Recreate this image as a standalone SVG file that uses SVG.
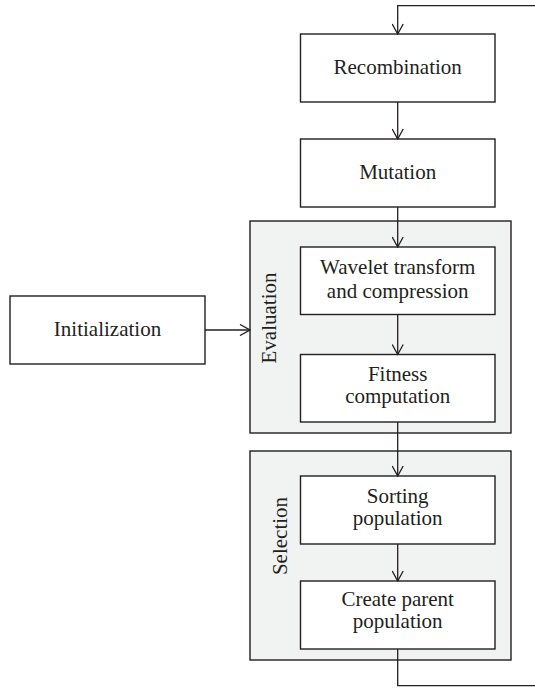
<svg xmlns="http://www.w3.org/2000/svg" width="535" height="688" viewBox="0 0 535 688">
  <style>
    .box { fill: #ffffff; stroke: #231f20; stroke-width: 1.4; }
    .group { fill: #f1f2f2; stroke: #231f20; stroke-width: 1.4; }
    .lbl { font-family: "Liberation Serif", "Times New Roman", serif; font-size: 21px; fill: #231f20; text-anchor: middle; }
    .wire { fill: none; stroke: #231f20; stroke-width: 1.3; }
  </style>
  <defs>
    <marker id="vee" viewBox="0 0 12 12" refX="11" refY="6" markerWidth="12" markerHeight="12" markerUnits="userSpaceOnUse" orient="auto">
      <path d="M1,0.5 L11,6 L1,11.5" fill="none" stroke="#231f20" stroke-width="1.3"/>
    </marker>
  </defs>

  <!-- grouping panels -->
  <g id="evaluation">
    <rect class="group" x="250" y="221" width="261" height="212"/>
    <text class="lbl" transform="translate(276,318) rotate(-90)">Evaluation</text>
  </g>
  <g id="selection">
    <rect class="group" x="250" y="451" width="261" height="209"/>
    <text class="lbl" transform="translate(287,536) rotate(-90)">Selection</text>
  </g>

  <!-- process steps -->
  <g id="recombination">
    <rect class="box" x="300.5" y="34" width="194.5" height="68"/>
    <text class="lbl" x="397.7" y="73.5">Recombination</text>
  </g>
  <g id="mutation">
    <rect class="box" x="300.5" y="139" width="194.5" height="68"/>
    <text class="lbl" x="397.7" y="178.5">Mutation</text>
  </g>
  <g id="initialization">
    <rect class="box" x="10" y="296" width="195" height="68"/>
    <text class="lbl" x="107.5" y="335.5">Initialization</text>
  </g>
  <g id="wavelet">
    <rect class="box" x="300.5" y="247" width="194.5" height="67.5"/>
    <text class="lbl" x="397.7" y="274.3">Wavelet transform</text>
    <text class="lbl" x="397.7" y="297.7">and compression</text>
  </g>
  <g id="fitness">
    <rect class="box" x="300.5" y="354.5" width="194.5" height="67.5"/>
    <text class="lbl" x="397.7" y="380.5">Fitness</text>
    <text class="lbl" x="397.7" y="403">computation</text>
  </g>
  <g id="sorting">
    <rect class="box" x="300.5" y="476" width="194.5" height="68"/>
    <text class="lbl" x="397.7" y="502.5">Sorting</text>
    <text class="lbl" x="397.7" y="525">population</text>
  </g>
  <g id="parent">
    <rect class="box" x="300.5" y="581" width="194.5" height="68"/>
    <text class="lbl" x="397.7" y="605.5">Create parent</text>
    <text class="lbl" x="397.7" y="628">population</text>
  </g>

  <!-- connectors -->
  <g id="connectors">
    <path class="wire" d="M535,5.7 H397.7 V34" marker-end="url(#vee)"/>
    <path class="wire" d="M397.7,102 V139" marker-end="url(#vee)"/>
    <path class="wire" d="M397.7,207 V247" marker-end="url(#vee)"/>
    <path class="wire" d="M397.7,314.5 V354.5" marker-end="url(#vee)"/>
    <path class="wire" d="M397.7,422 V476" marker-end="url(#vee)"/>
    <path class="wire" d="M397.7,544 V581" marker-end="url(#vee)"/>
    <path class="wire" d="M397.7,649 V685.7 H535"/>
    <path class="wire" d="M205,330 H250" marker-end="url(#vee)"/>
  </g>
</svg>
